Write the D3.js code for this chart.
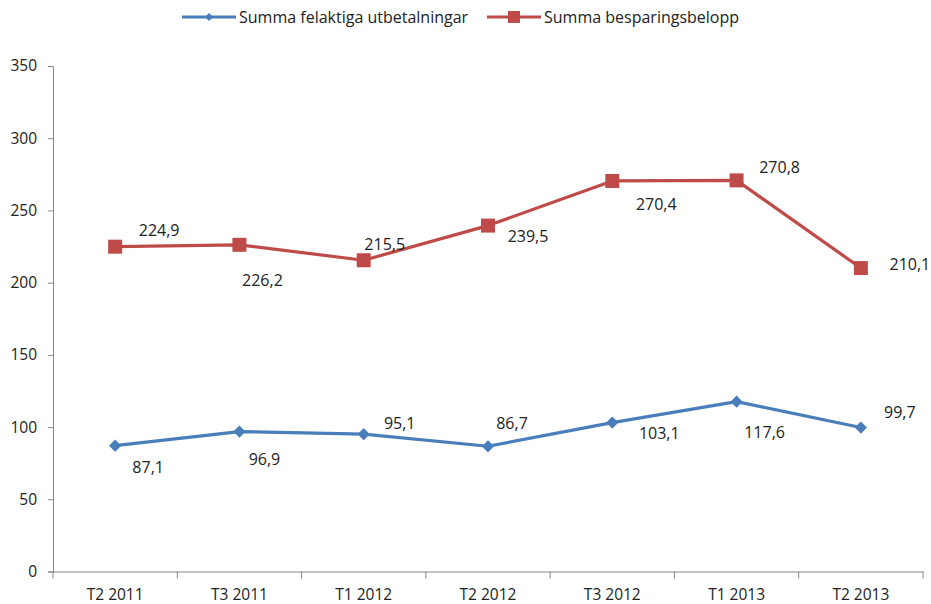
<!DOCTYPE html>
<html>
<head>
<meta charset="utf-8">
<script src="https://cdn.jsdelivr.net/npm/d3@7"></script>
<style>
  body { margin: 0; background: #fff; }
  text { font-family: "Open Sans", Lato, "Liberation Sans", sans-serif; fill: #222; }
</style>
</head>
<body>
<svg id="chart" width="931" height="604"></svg>
<script>
const periods = ["T2 2011", "T3 2011", "T1 2012", "T2 2012", "T3 2012", "T1 2013", "T2 2013"]
const felaktiga = [87.1, 96.9, 95.1, 86.7, 103.1, 117.6, 99.7]
const besparing = [224.9, 226.2, 215.5, 239.5, 270.4, 270.8, 210.1]
const yTicks = [0, 50, 100, 150, 200, 250, 300, 350]

// where each value label sits relative to its point (dx, dy)
const blueLabelPos = [[33, 21], [25, 27], [36, -11], [24, -23], [47, 10], [28, 30], [39, -16]]
const redLabelPos = [[44, -17], [23, 35], [21, -16], [40, 10], [44, 23], [43, -13], [49, -4]]

const svg = d3.select('#chart')
const plotLeft = 53, plotRight = 923, plotTop = 66, plotBottom = 571.5

const x = d3.scaleBand().domain(periods).range([plotLeft, plotRight])
const y = d3.scaleLinear().domain([0, 350]).range([plotBottom, plotTop])

// y axis
const yAxis = svg.append('g')
    .attr('transform', `translate(${plotLeft},0)`)
    .call(d3.axisLeft(y).tickValues(yTicks).tickSize(5).tickPadding(11).tickFormat(d3.format('d')))
yAxis.selectAll('path, line').attr('stroke', '#868686')
yAxis.selectAll('text').style('font-size', '15.5px').attr('fill', '#222')

// x axis, ticks between categories
const xAxis = svg.append('g')
    .attr('transform', `translate(0,${plotBottom})`)
    .call(d3.axisBottom(x).tickSize(0).tickPadding(17))
xAxis.select('.domain').attr('stroke', '#868686')
xAxis.selectAll('text').style('font-size', '15.5px').attr('fill', '#222')
svg.append('g')
    .selectAll('line')
    .data(d3.range(periods.length + 1))
    .join('line')
    .attr('x1', i => plotLeft + i * x.step())
    .attr('x2', i => plotLeft + i * x.step())
    .attr('y1', plotBottom)
    .attr('y2', plotBottom + 7)
    .attr('stroke', '#868686')

const cx = i => x(periods[i]) + x.bandwidth() / 2

const series = [
    {values: felaktiga, color: '#4a7ebb', size: 75, legendSize: 34, rotate: 45, labels: blueLabelPos, name: 'Summa felaktiga utbetalningar'},
    {values: besparing, color: '#be4b48', size: 196, legendSize: 144, rotate: 0, labels: redLabelPos, name: 'Summa besparingsbelopp'}
]

const line = d3.line().x((d, i) => cx(i)).y(d => y(d))

series.forEach(s => {
    svg.append('path')
        .datum(s.values)
        .attr('d', line)
        .attr('fill', 'none')
        .attr('stroke', s.color)
        .attr('stroke-width', 3.2)
        .attr('stroke-linejoin', 'round')

    svg.append('g')
        .selectAll('path')
        .data(s.values)
        .join('path')
        .attr('transform', (d, i) => `translate(${cx(i)},${y(d)}) rotate(${s.rotate})`)
        .attr('d', d3.symbol(d3.symbolSquare, s.size))
        .attr('fill', s.color)

    svg.append('g')
        .selectAll('text')
        .data(s.values)
        .join('text')
        .attr('x', (d, i) => cx(i) + s.labels[i][0])
        .attr('y', (d, i) => y(d) + s.labels[i][1])
        .attr('text-anchor', 'middle')
        .attr('dominant-baseline', 'central')
        .style('font-size', '16px')
        .text(d => d3.format('.1f')(d).replace('.', ','))
})

// legend
const legendX = [182, 487]
series.forEach((s, k) => {
    const g = svg.append('g').attr('transform', `translate(${legendX[k]},17)`)
    g.append('line').attr('x1', 0).attr('x2', 54).attr('stroke', s.color).attr('stroke-width', 3.2)
    g.append('path').attr('transform', `translate(27,0) rotate(${s.rotate})`).attr('d', d3.symbol(d3.symbolSquare, s.legendSize)).attr('fill', s.color)
    g.append('text').attr('x', 57).attr('dominant-baseline', 'central').style('font-size', '16px').text(s.name)
})
</script>
</body>
</html>
